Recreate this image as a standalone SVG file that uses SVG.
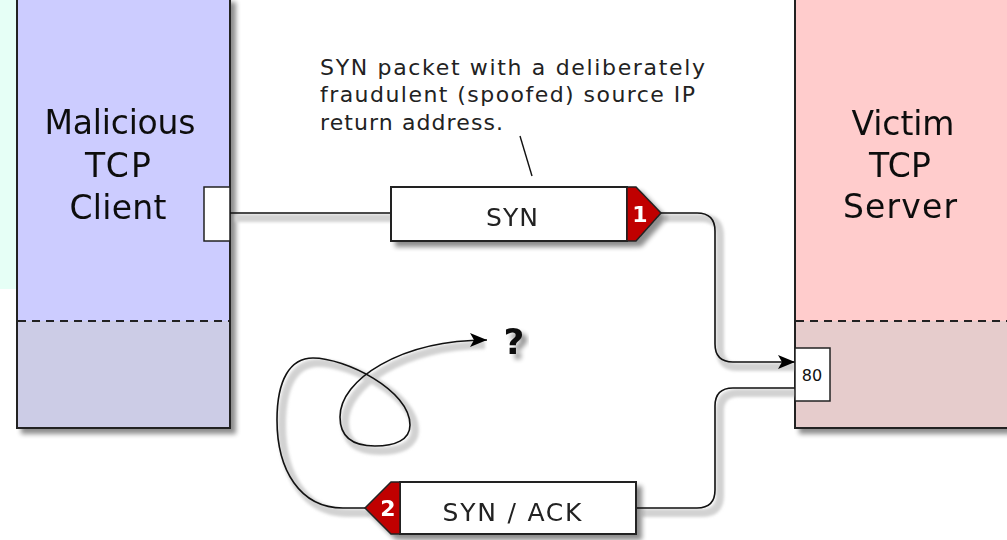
<svg xmlns="http://www.w3.org/2000/svg" width="1007" height="540" viewBox="0 0 1007 540">
  <defs>
    <filter id="boxShadow" x="-10%" y="-10%" width="130%" height="130%">
      <feGaussianBlur in="SourceAlpha" stdDeviation="2.5"/>
      <feOffset dx="5" dy="5"/>
      <feComponentTransfer><feFuncA type="linear" slope="0.45"/></feComponentTransfer>
      <feMerge><feMergeNode/><feMergeNode in="SourceGraphic"/></feMerge>
    </filter>
    <filter id="soft" x="-10%" y="-10%" width="130%" height="130%">
      <feGaussianBlur stdDeviation="1.8"/>
    </filter>
    <marker id="arrow" markerUnits="userSpaceOnUse" markerWidth="18" markerHeight="16" refX="17" refY="8" orient="auto">
      <path d="M0,1 L17,8 L0,15 L4,8 Z" fill="#000"/>
    </marker>
    <style>
      .box { stroke: #222; stroke-width: 2; }
      .divider { stroke: #222; stroke-width: 2; stroke-dasharray: 8 6; fill: none; }
      .port { fill: #fff; stroke: #222; stroke-width: 1.5; }
      .big { font-family: "DejaVu Sans", Verdana, sans-serif; font-size: 33px; fill: #111; text-anchor: middle; }
      .note { font-family: "DejaVu Sans", Verdana, sans-serif; font-size: 22px; fill: #222; }
      .pkt { font-family: "DejaVu Sans", Verdana, sans-serif; font-size: 25px; fill: #222; text-anchor: middle; }
      .num { font-family: "DejaVu Sans", Verdana, sans-serif; font-size: 22px; font-weight: bold; fill: #fff; text-anchor: middle; }
      .flag { fill: #c00000; stroke: #222; stroke-width: 1.5; }
      .packet { fill: #fff; stroke: #222; stroke-width: 2; }
      .wire { fill: none; stroke: #111; stroke-width: 1.6; }
      .wireShadow { fill: none; stroke: #d2d2d2; stroke-width: 8; }
    </style>
  </defs>

  <rect width="1007" height="540" fill="#fff"/>
  <!-- pale backdrop on the far left -->
  <rect x="0" y="0" width="20" height="289" fill="#e6fff6"/>

  <!-- attacker host -->
  <g id="client" filter="url(#boxShadow)">
    <rect x="17" y="-2" width="213" height="323" fill="#ccccff"/>
    <rect x="17" y="321" width="213" height="107" fill="#ccccE6"/>
    <rect class="box" x="17" y="-2" width="213" height="430" fill="none"/>
    <line class="divider" x1="18" y1="321" x2="229" y2="321"/>
    <text class="big" x="120" y="134" textLength="151" lengthAdjust="spacing">Malicious</text>
    <text class="big" x="118" y="177" textLength="66" lengthAdjust="spacing">TCP</text>
    <text class="big" x="118" y="219" textLength="97" lengthAdjust="spacing">Client</text>
    <rect class="port" x="204" y="187" width="26" height="54"/>
  </g>

  <!-- target host -->
  <g id="server" filter="url(#boxShadow)">
    <rect x="795" y="-2" width="220" height="323" fill="#ffcccc"/>
    <rect x="795" y="321" width="220" height="107" fill="#e6cccc"/>
    <rect class="box" x="795" y="-2" width="220" height="430" fill="none"/>
    <line class="divider" x1="796" y1="321" x2="1010" y2="321"/>
    <text class="big" x="903" y="135" textLength="103" lengthAdjust="spacing">Victim</text>
    <text class="big" x="900" y="177" textLength="62" lengthAdjust="spacing">TCP</text>
    <text class="big" x="900" y="218" textLength="114" lengthAdjust="spacing">Server</text>
  </g>

  <!-- connectors -->
  <g id="connectors">
    <g transform="translate(5,5)" filter="url(#soft)">
      <path class="wireShadow" d="M230,213 H391"/>
      <path class="wireShadow" d="M660,213 H697 Q715,213 715,231 V344 Q715,362 733,362 H790"/>
      <path class="wireShadow" d="M795,388 H733 Q715,388 715,406 V490 Q715,508 697,508 H637"/>
      <path class="wireShadow" d="M365,508 H343 C300,508 277,470 277,420 C277,380 290,358 313,358 C345,358 410,390 410,425 C410,440 395,446 375,446 C350,446 340,435 340,417 C340,380 400,340 480,340"/>
    </g>
    <path class="wire" d="M230,213 H391"/>
    <path class="wire" d="M660,213 H697 Q715,213 715,231 V344 Q715,362 733,362 H795" marker-end="url(#arrow)"/>
    <path class="wire" d="M795,388 H733 Q715,388 715,406 V490 Q715,508 697,508 H637"/>
    <path class="wire" d="M365,508 H343 C300,508 277,470 277,420 C277,380 290,358 313,358 C345,358 410,390 410,425 C410,440 395,446 375,446 C350,446 340,435 340,417 C340,380 400,340 487,340" marker-end="url(#arrow)"/>
    <line x1="520" y1="136" x2="532" y2="176" stroke="#111" stroke-width="1.4"/>
  </g>

  <!-- port 80 on the server -->
  <g id="port80">
    <rect class="port" x="795" y="348" width="35" height="53"/>
    <text x="812" y="381" font-family="DejaVu Sans, sans-serif" font-size="16" fill="#111" text-anchor="middle">80</text>
  </g>

  <!-- annotation -->
  <g id="note">
    <text class="note" x="320" y="75" textLength="385" lengthAdjust="spacing">SYN packet with a deliberately</text>
    <text class="note" x="320" y="102" textLength="375" lengthAdjust="spacing">fraudulent (spoofed) source IP</text>
    <text class="note" x="320" y="130" textLength="183" lengthAdjust="spacing">return address.</text>
  </g>

  <!-- packet 1 -->
  <g id="syn" filter="url(#boxShadow)">
    <rect class="packet" x="391" y="187" width="236" height="54"/>
    <polygon class="flag" points="627,187 636,187 661,213 636,241 627,241"/>
    <text class="pkt" x="512" y="226" textLength="52" lengthAdjust="spacing">SYN</text>
    <text class="num" x="640" y="222">1</text>
  </g>

  <!-- packet 2 -->
  <g id="synack" filter="url(#boxShadow)">
    <rect class="packet" x="400" y="482" width="236" height="52"/>
    <polygon class="flag" points="400,482 391,482 365,508 391,534 400,534"/>
    <text class="pkt" x="512" y="521" textLength="139" lengthAdjust="spacing">SYN / ACK</text>
    <text class="num" x="388" y="516">2</text>
  </g>

  <!-- unknown destination -->
  <g id="unknown">
    <text x="514" y="354" font-family="DejaVu Sans, sans-serif" font-size="36" font-weight="bold" fill="#111" text-anchor="middle" filter="url(#boxShadow)">?</text>
  </g>
</svg>
